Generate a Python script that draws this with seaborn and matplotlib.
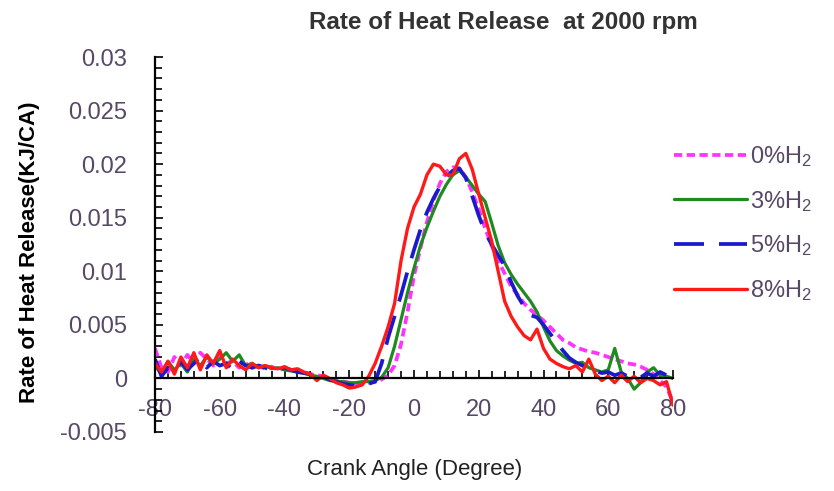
import matplotlib
matplotlib.use("Agg")
import matplotlib.pyplot as plt
import numpy as np
import pandas as pd
import seaborn as sns
from matplotlib.ticker import MultipleLocator, FixedLocator, FixedFormatter

# ---------------- data (ROHR in 1e-4 kJ/CA) ----------------
angle = list(range(-80, 81, 2))

h0 = [28, 10, 6, 20, 12, 22, 14, 24, 18, 12,
      20, 14, 16, 10, 14, 10, 12, 9, 11, 8,
      9, 8, 7, 6, 4, 3, 2, 0, -2, -3,
      -4, -5, -5, -4, -3, -1, 3, 12, 32, 62,
      96, 122, 146, 166, 182, 193, 197, 196, 188, 174,
      158, 140, 124, 110, 98, 86, 78, 70, 64, 59,
      54, 48, 42, 36, 33, 29, 27, 25, 24, 22,
      20, 18, 16, 14, 13, 11, 8, 4, -2, -8,
      -22]

h3 = [12, 4, 16, 8, 14, 6, 18, 12, 20, 14,
      18, 24, 16, 22, 12, 14, 10, 12, 9, 10,
      8, 7, 6, 5, 3, 2, 0, -2, -3, -3,
      -4, -4, -3, -3, -2, 1, 10, 30, 55, 80,
      103, 124, 141, 156, 170, 181, 190, 194, 188, 180,
      172, 165, 145, 124, 108, 97, 88, 80, 72, 62,
      48, 35, 26, 21, 17, 14, 15, 10, 8, 6,
      8, 28, 6, 0, -10, -4, 6, 10, 3, 2,
      0]

h5 = [18, 2, 10, 6, 16, 8, 14, 20, 10, 16,
      12, 14, 8, 16, 12, 10, 12, 10, 8, 9,
      10, 8, 6, 5, 4, 2, 1, -1, -3, -5,
      -6, -7, -6, -5, -3, 14, 38, 58, 78, 100,
      120, 139, 155, 168, 179, 188, 194, 196, 187, 170,
      152, 136, 125, 115, 105, 90, 77, 67, 59, 57,
      50, 42, 34, 26, 19, 15, 12, 9, 7, 5,
      6, 3, 5, 2, 4, 1, 5, 2, 6, 3,
      0]

h8 = [14, 6, 16, 4, 20, 10, 24, 8, 22, 14,
      26, 10, 18, 12, 8, 14, 10, 12, 10, 9,
      11, 8, 9, 6, 4, -2, 3, 0, -4, -6,
      -9, -8, -6, 2, 14, 30, 48, 70, 110, 140,
      160, 172, 190, 200, 198, 190, 190, 205, 210, 195,
      172, 150, 128, 100, 72, 58, 48, 40, 36, 46,
      28, 18, 14, 11, 9, 12, 6, 18, 4, -2,
      2, -4, 3, -3, 2, -4, 0, -2, -6, -3,
      -25]

series_names = ["0%H$_2$", "3%H$_2$", "5%H$_2$", "8%H$_2$"]
series_vals = [h0, h3, h5, h8]

x_ticks = [-80, -60, -40, -20, 0, 20, 40, 60, 80]
y_ticks = [-0.005, 0, 0.005, 0.01, 0.015, 0.02, 0.025, 0.03]
y_tick_labels = ["-0.005", "0", "0.005", "0.01", "0.015", "0.02", "0.025", "0.03"]

title_text = "Rate of Heat Release  at 2000 rpm"
x_label = "Crank Angle (Degree)"
y_label = "Rate of Heat Release(KJ/CA)"

# ---------------- styling ----------------
colors = ["#ff33ff", "#1f8a1f", "#1a1acc", "#ff1a1a"]
dash_styles = [(0, (2.2, 1.2)), "-", (0, (8, 4)), "-"]
widths = [2.7, 2.3, 2.7, 2.4]
label_color = "#574866"

sns.set_style("white")
plt.rcParams["font.family"] = ["Liberation Sans", "DejaVu Sans"]
plt.rcParams["axes.unicode_minus"] = False
plt.rcParams["mathtext.fontset"] = "custom"
plt.rcParams["mathtext.rm"] = "Liberation Sans"
plt.rcParams["mathtext.it"] = "Liberation Sans"

frames = []
for name, vals in zip(series_names, series_vals):
    frames.append(pd.DataFrame({"angle": angle,
                                "rohr": np.array(vals) * 1e-4,
                                "blend": name}))
df = pd.concat(frames, ignore_index=True)

fig = plt.figure(figsize=(8.34, 4.91), dpi=100)
ax = fig.add_axes([155 / 834, 1 - 432 / 491, (673 - 155) / 834, (432 - 57) / 491])

for name, c, ls, lw in zip(series_names, colors, dash_styles, widths):
    sub = df[df["blend"] == name]
    sns.lineplot(data=sub, x="angle", y="rohr", ax=ax, color=c,
                 linestyle=ls, linewidth=lw, label=name)

ax.set_xlim(-80, 80)
ax.set_ylim(-0.005, 0.03)

for s in ["top", "right"]:
    ax.spines[s].set_visible(False)
ax.spines["bottom"].set_position(("data", 0))
for s in ["left", "bottom"]:
    ax.spines[s].set_color("black")
    ax.spines[s].set_linewidth(1.6)

ax.xaxis.set_major_locator(FixedLocator(x_ticks))
ax.xaxis.set_minor_locator(MultipleLocator(4))
ax.yaxis.set_major_locator(FixedLocator(y_ticks))
ax.yaxis.set_major_formatter(FixedFormatter(y_tick_labels))
ax.yaxis.set_minor_locator(MultipleLocator(0.001))

ax.tick_params(axis="both", which="both", direction="in", color="black",
               width=1.2, labelsize=17, labelcolor=label_color)
ax.tick_params(axis="both", which="major", length=6)
ax.tick_params(axis="both", which="minor", length=5)
ax.tick_params(axis="x", which="both", pad=15)
ax.tick_params(axis="y", which="both", pad=20)
ax.tick_params(axis="x", which="both", bottom=True, top=False)
ax.tick_params(axis="y", which="both", left=True, right=False)

ax.set_xlabel("")
ax.set_ylabel("")
fig.text(415 / 834, 1 - 470 / 491, x_label, ha="center", va="center",
         fontsize=16, color="#222222")
fig.text(30 / 834, 1 - 252 / 491, y_label, ha="center", va="center",
         rotation=90, fontsize=16, fontweight="bold", color="black")
fig.text(503 / 834, 1 - 22 / 491, title_text, ha="center", va="center",
         fontsize=17.5, fontweight="bold", color="#333333")

handles, labels = ax.get_legend_handles_labels()
ax.get_legend().remove()
leg = fig.legend(handles, labels, loc="upper left",
                 bbox_to_anchor=(674 / 834, 1 - 144 / 491),
                 frameon=False, fontsize=17, handlelength=3.1,
                 handletextpad=0.1, labelspacing=0.84, borderpad=0,
                 borderaxespad=0)
for t in leg.get_texts():
    t.set_color(label_color)

fig.savefig("out.png", dpi=100)
